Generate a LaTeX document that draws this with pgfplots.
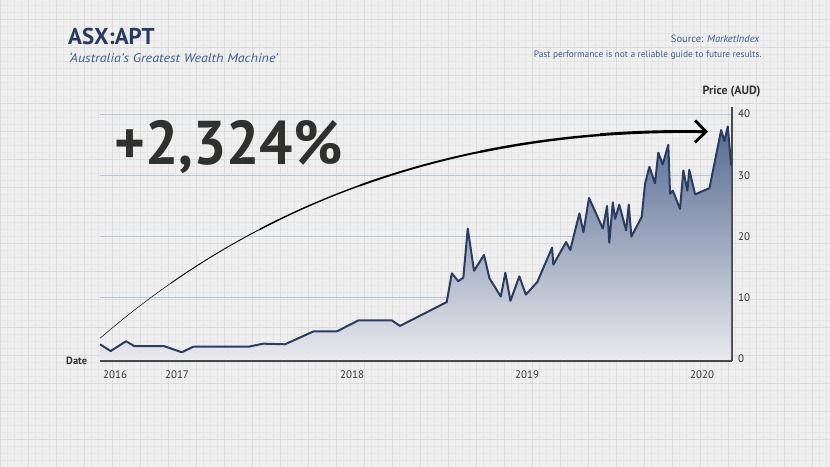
\documentclass[border=0pt]{standalone}
\usepackage{pgfplots}
\pgfplotsset{compat=1.18}
\usepackage{pgfplotstable}
\usepackage{fontspec}
\setmainfont{PT Sans}
\usetikzlibrary{arrows.meta}

\definecolor{paper}{HTML}{EFEFEF}
\definecolor{paperminor}{HTML}{E5E5E5}
\definecolor{papermajor}{HTML}{DCDCDC}
\definecolor{titleblue}{HTML}{283A5E}
\definecolor{subblue}{HTML}{3E5E8F}
\definecolor{darktext}{HTML}{333333}
\definecolor{bignum}{HTML}{30302E}
\definecolor{lineblue}{HTML}{2B3C61}
\definecolor{axisgray}{HTML}{4A4A4A}
\definecolor{gridblue}{HTML}{B7C7DC}
\definecolor{filltop}{HTML}{566A91}
\definecolor{fillbot}{HTML}{E8E9ED}

\pgfplotstableread{
x y
2016.560 2.4
2016.621 1.3
2016.709 2.9
2016.756 2.1
2016.926 2.1
2017.027 1.1
2017.093 2.0
2017.407 2.0
2017.493 2.5
2017.617 2.4
2017.779 4.5
2017.913 4.5
2018.036 6.3
2018.227 6.3
2018.274 5.4
2018.541 9.3
2018.570 14.0
2018.607 12.7
2018.636 13.3
2018.661 21.3
2018.697 14.4
2018.754 17.0
2018.785 13.2
2018.850 10.2
2018.876 14.1
2018.905 9.5
2018.956 13.5
2018.993 10.5
2019.059 12.6
2019.143 18.2
2019.150 15.4
2019.223 19.1
2019.247 17.8
2019.299 23.8
2019.322 20.7
2019.354 26.3
2019.433 21.3
2019.457 25.0
2019.470 19.0
2019.490 25.6
2019.503 22.9
2019.527 25.2
2019.566 21.0
2019.581 25.2
2019.596 20.0
2019.655 23.2
2019.674 28.6
2019.699 31.4
2019.731 28.7
2019.750 33.7
2019.775 31.8
2019.807 35.0
2019.817 27.0
2019.833 27.5
2019.874 24.5
2019.893 30.8
2019.916 27.5
2019.927 30.9
2019.960 26.9
2020.042 27.9
2020.109 37.4
2020.127 35.6
2020.147 38.0
2020.166 31.6
}\apt

\begin{document}
\begin{tikzpicture}[x=1bp,y=1bp]
\useasboundingbox (0,0) rectangle (830,467);
\fill[paper] (0,0) rectangle (830,467);
\draw[paperminor, line width=0.4bp, step=7bp] (0,0) grid (830,467);
\draw[papermajor, line width=0.8bp, step=28bp] (0,0) grid (830,467);

\begin{axis}[
  at={(100bp,105.5bp)}, anchor=south west,
  scale only axis, width=632bp, height=254.8bp,
  xmin=2016.560, xmax=2020.171,
  ymin=-0.41, ymax=41.22,
  axis x line*=bottom, axis y line*=right,
  axis line style={draw=axisgray, line width=2bp},
  major tick length=0pt,
  xtick={2016.646,2017,2018,2019,2020},
  xticklabels={2016,2017,2018,2019,2020},
  ytick={10,20,30,40},
  yticklabels={10,20,30,40},
  extra y ticks={0}, extra y tick labels={0},
  extra y tick style={grid=none},
  ymajorgrids,
  grid style={draw=gridblue, line width=0.8bp},
  xticklabel style={inner sep=0pt, anchor=north, yshift=-9bp, font=\fontsize{11}{12}\selectfont, text=darktext},
  yticklabel style={inner sep=0pt, anchor=west, xshift=6bp, font=\fontsize{11}{12}\selectfont, text=darktext},
  clip=false,
]
\addplot[draw=none, shade, top color=filltop, bottom color=fillbot, forget plot] table[x=x,y=y] {\apt} \closedcycle;
\addplot[draw=lineblue, line width=2bp, line join=round, mark=none] table[x=x,y=y] {\apt};
\end{axis}

% tapered arrow (annotation)
\def\arrowpath{(100,128.7) .. controls (230,241) and (420,340) .. (708,335.3)}
\begin{scope}
  \clip (0,0) rectangle (170,467);
  \draw[black, line width=0.5bp] \arrowpath;
\end{scope}
\begin{scope}
  \clip (170,0) rectangle (260,467);
  \draw[black, line width=0.9bp] \arrowpath;
\end{scope}
\begin{scope}
  \clip (260,0) rectangle (360,467);
  \draw[black, line width=1.4bp] \arrowpath;
\end{scope}
\begin{scope}
  \clip (360,0) rectangle (480,467);
  \draw[black, line width=1.9bp] \arrowpath;
\end{scope}
\begin{scope}
  \clip (480,0) rectangle (600,467);
  \draw[black, line width=2.4bp] \arrowpath;
\end{scope}
\begin{scope}
  \clip (600,0) rectangle (830,467);
  \draw[black, line width=2.9bp, -{Straight Barb[length=11bp,width=22bp]}] \arrowpath;
\end{scope}

% texts
\node[anchor=base west, inner sep=0, text=titleblue, font=\fontsize{23}{25}\selectfont\bfseries] at (68,422.7) {ASX:APT};
\node[anchor=base west, inner sep=0, text=subblue, font=\fontsize{12.5}{14}\selectfont\itshape] at (69,404.3) {\scalebox{1.13}[1]{‘Australia’s Greatest Wealth Machine’}};
\node[anchor=base east, inner sep=0, text=subblue, font=\fontsize{10.5}{12}\selectfont] at (760,424.7) {Source: \textit{MarketIndex}};
\node[anchor=base east, inner sep=0, text=subblue, font=\fontsize{9.4}{11}\selectfont] at (761.7,409.7) {Past performance is not a reliable guide to future results.};
\node[anchor=base east, inner sep=0, text=darktext, font=\fontsize{12}{13}\selectfont\bfseries] at (760.7,372.7) {Price (AUD)};
\node[anchor=base east, inner sep=0, text=darktext, font=\fontsize{10.5}{12}\selectfont\bfseries] at (87.3,102) {Date};
\node[anchor=base west, inner sep=0, text=bignum, font=\fontsize{62}{64}\selectfont\bfseries] at (114,302) {\scalebox{0.95}[1]{+2,324\%}};
\end{tikzpicture}
\end{document}
